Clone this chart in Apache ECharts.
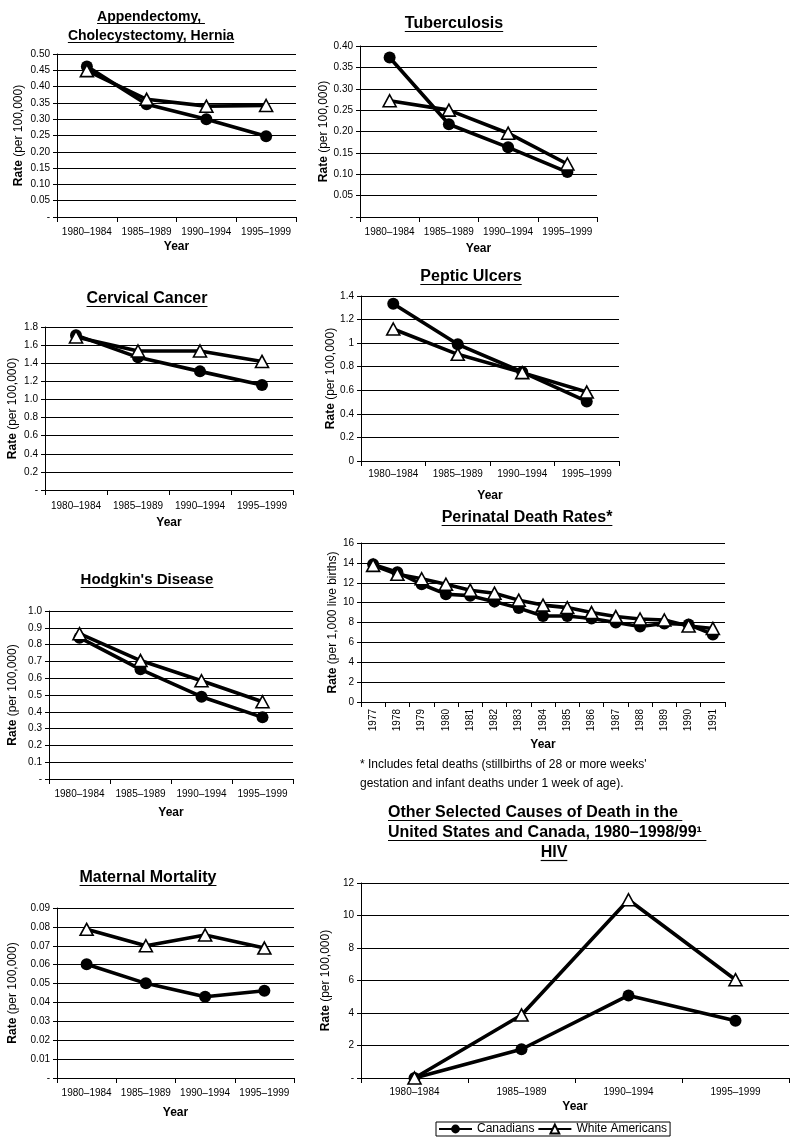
<!DOCTYPE html>
<html>
<head>
<meta charset="utf-8">
<script src="https://cdn.jsdelivr.net/npm/echarts@6/dist/echarts.min.js"></script>
<style>
html,body{margin:0;padding:0;background:#fff;}
#c{width:790px;height:1139px;}
</style>
</head>
<body>
<div id="c"></div>
<script>
// ---------- DATA ----------
const periods = ['1980–1984', '1985–1989', '1990–1994', '1995–1999'];
const years = ['1977','1978','1979','1980','1981','1982','1983','1984','1985','1986','1987','1988','1989','1990','1991'];
const seriesNames = ['Canadians', 'White Americans'];

const appCan = [0.462, 0.346, 0.300, 0.248];
const appWA  = [0.449, 0.361, 0.340, 0.342];
const appTicks = ['-', '0.05', '0.10', '0.15', '0.20', '0.25', '0.30', '0.35', '0.40', '0.45', '0.50'];

const tbCan = [0.373, 0.217, 0.163, 0.105];
const tbWA  = [0.272, 0.250, 0.196, 0.124];
const tbTicks = ['-', '0.05', '0.10', '0.15', '0.20', '0.25', '0.30', '0.35', '0.40'];

const cervCan = [1.71, 1.465, 1.31, 1.16];
const cervWA  = [1.69, 1.535, 1.535, 1.42];
const cervTicks = ['-', '0.2', '0.4', '0.6', '0.8', '1.0', '1.2', '1.4', '1.6', '1.8'];

const pepCan = [1.335, 0.99, 0.755, 0.505];
const pepWA  = [1.12, 0.905, 0.75, 0.585];
const pepTicks = ['0', '0.2', '0.4', '0.6', '0.8', '1', '1.2', '1.4'];

const hodCan = [0.841, 0.653, 0.49, 0.367];
const hodWA  = [0.865, 0.705, 0.585, 0.46];
const hodTicks = ['-', '0.1', '0.2', '0.3', '0.4', '0.5', '0.6', '0.7', '0.8', '0.9', '1.0'];

const periCan = [13.85, 13.05, 11.85, 10.85, 10.7, 10.1, 9.45, 8.65, 8.65, 8.4, 8.0, 7.6, 7.9, 7.8, 6.8];
const periWA  = [13.75, 12.85, 12.4, 11.85, 11.25, 10.95, 10.25, 9.75, 9.5, 9.0, 8.6, 8.35, 8.25, 7.65, 7.4];
const periTicks = ['0', '2', '4', '6', '8', '10', '12', '14', '16'];

const matCan = [0.0602, 0.0501, 0.043, 0.0462];
const matWA  = [0.0787, 0.0700, 0.0757, 0.0688];
const matTicks = ['-', '0.01', '0.02', '0.03', '0.04', '0.05', '0.06', '0.07', '0.08', '0.09'];

const hivCan = [0, 1.77, 5.08, 3.53];
const hivWA  = [0, 3.88, 10.97, 6.05];
const hivTicks = ['-', '2', '4', '6', '8', '10', '12'];

// ---------- LAYOUT ----------
const FONT = '"Liberation Sans", Arial, Helvetica, sans-serif';
const panels = [
  {grid:{left:57, top:54, width:239, height:163}, cats:periods, can:appCan, wa:appWA, max:0.5, interval:0.05, ticks:appTicks, yname:'(per 100,000)', yGap:32, xMargin:10, xGap:24},
  {grid:{left:360, top:46, width:237, height:171}, cats:periods, can:tbCan, wa:tbWA, max:0.4, interval:0.05, ticks:tbTicks, yname:'(per 100,000)', yGap:27, xMargin:10, xGap:26},
  {grid:{left:45, top:327, width:248, height:163}, cats:periods, can:cervCan, wa:cervWA, max:1.8, interval:0.2, ticks:cervTicks, yname:'(per 100,000)', yGap:26, xMargin:11, xGap:27},
  {grid:{left:361, top:296, width:258, height:165}, cats:periods, can:pepCan, wa:pepWA, max:1.4, interval:0.2, ticks:pepTicks, yname:'(per 100,000)', yGap:24, xMargin:8, xGap:29},
  {grid:{left:49, top:611, width:244, height:168}, cats:periods, can:hodCan, wa:hodWA, max:1.0, interval:0.1, ticks:hodTicks, yname:'(per 100,000)', yGap:30, xMargin:10, xGap:28},
  {grid:{left:361, top:543, width:364, height:159}, cats:years, can:periCan, wa:periWA, max:16, interval:2, ticks:periTicks, yname:'(per 1,000 live births)', yGap:18, xMargin:7, xGap:37, rotate:90},
  {grid:{left:57, top:908, width:237, height:170}, cats:periods, can:matCan, wa:matWA, max:0.09, interval:0.01, ticks:matTicks, yname:'(per 100,000)', yGap:38, xMargin:10, xGap:29},
  {grid:{left:361, top:883, width:428, height:195}, cats:periods, can:hivCan, wa:hivWA, max:12, interval:2, ticks:hivTicks, yname:'(per 100,000)', yGap:26, xMargin:9, xGap:23}
];

const titles = [
  {text:'Appendectomy, ', x:151, y:17, size:14, align:'center'},
  {text:'Cholecystectomy, Hernia', x:151, y:36, size:14, align:'center'},
  {text:'Tuberculosis', x:454, y:24, size:16, align:'center'},
  {text:'Cervical Cancer', x:147, y:299, size:16, align:'center'},
  {text:'Peptic Ulcers', x:471, y:277, size:16, align:'center'},
  {text:"Hodgkin's Disease", x:147, y:580, size:15, align:'center'},
  {text:'Perinatal Death Rates*', x:527, y:518, size:16, align:'center'},
  {text:'Maternal Mortality', x:148, y:878, size:16, align:'center'},
  {text:'Other Selected Causes of Death in the ', x:388, y:813, size:16, align:'left'},
  {text:'United States and Canada, 1980–1998/99¹ ', x:388, y:833, size:16, align:'left'},
  {text:'HIV', x:554, y:853, size:16, align:'center'}
];

const footnote = ["* Includes fetal deaths (stillbirths of 28 or more weeks'", "gestation and infant deaths under 1 week of age)."];

// ---------- BUILD ----------
const mctx = document.createElement('canvas').getContext('2d');
function textWidth(t, font){ mctx.font = font; return mctx.measureText(t).width; }

const grid = [], xAxis = [], yAxis = [], series = [], graphic = [];
panels.forEach((p, i) => {
  grid.push(Object.assign({containLabel:false}, p.grid));
  xAxis.push({
    type:'category', gridIndex:i, data:p.cats, boundaryGap:true,
    name:'Year', nameLocation:'middle', nameGap:p.xGap,
    nameTextStyle:{fontFamily:FONT, fontWeight:'bold', fontSize:12, color:'#000'},
    axisLine:{show:true, lineStyle:{color:'#000', width:1}},
    axisTick:{show:true, interval:0, alignWithLabel:false, length:5, lineStyle:{color:'#000', width:1}},
    axisLabel:{interval:0, fontFamily:FONT, fontSize:10, color:'#000', margin:p.xMargin, rotate:p.rotate || 0},
    splitLine:{show:false}
  });
  yAxis.push({
    type:'value', gridIndex:i, min:0, max:p.max, interval:p.interval,
    name:'{b|Rate} {n|' + p.yname + '}', nameLocation:'middle', nameGap:p.yGap, nameRotate:90,
    nameTextStyle:{fontFamily:FONT, fontSize:12, color:'#000',
      rich:{b:{fontFamily:FONT, fontWeight:'bold', fontSize:12, color:'#000'}, n:{fontFamily:FONT, fontSize:12, color:'#000'}}},
    axisLine:{show:true, lineStyle:{color:'#000', width:1}},
    axisTick:{show:true, length:4, lineStyle:{color:'#000', width:1}},
    axisLabel:{fontFamily:FONT, fontSize:10, color:'#000', margin:7,
      formatter:(v) => { const k = Math.round(v / p.interval); return p.ticks[k] !== undefined ? p.ticks[k] : ''; }},
    splitLine:{show:true, lineStyle:{color:'#000', width:1}}
  });
  series.push({
    name:seriesNames[0], type:'line', xAxisIndex:i, yAxisIndex:i, data:p.can,
    symbol:'circle', symbolSize:12, showAllSymbol:true,
    lineStyle:{color:'#000', width:3.6}, itemStyle:{color:'#000', borderColor:'#000', borderWidth:0},
    emphasis:{disabled:true}, animation:false, z:2
  });
  series.push({
    name:seriesNames[1], type:'line', xAxisIndex:i, yAxisIndex:i, data:p.wa,
    symbol:'triangle', symbolSize:[13, 12], showAllSymbol:true,
    lineStyle:{color:'#000', width:3.6}, itemStyle:{color:'#fff', borderColor:'#000', borderWidth:1.6},
    emphasis:{disabled:true}, animation:false, z:3
  });
});

titles.forEach(t => {
  const font = 'bold ' + t.size + 'px ' + FONT;
  const w = textWidth(t.text, font);
  const x0 = t.align === 'center' ? t.x - w / 2 : t.x;
  graphic.push({type:'text', x:t.x, y:t.y, z:10,
    style:{text:t.text, font:font, fill:'#000', textAlign:t.align, textVerticalAlign:'middle'}});
  const uy = Math.round(t.y + t.size * 0.35 + 1.5) + 0.5;
  graphic.push({type:'line', z:10, shape:{x1:x0, y1:uy, x2:x0 + w, y2:uy}, style:{stroke:'#000', lineWidth:1.2}});
});
footnote.forEach((line, k) => {
  graphic.push({type:'text', x:360, y:765 + k * 19, z:10,
    style:{text:line, font:'12px ' + FONT, fill:'#000', textAlign:'left', textVerticalAlign:'middle'}});
});

const chart = echarts.init(document.getElementById('c'), null, {renderer:'canvas', width:790, height:1139});
chart.setOption({
  animation:false,
  backgroundColor:'#fff',
  textStyle:{fontFamily:FONT},
  grid, xAxis, yAxis, series, graphic,
  legend:{
    data:seriesNames, left:436, top:1122, orient:'horizontal',
    borderColor:'#000', borderWidth:1, padding:[1, 3, 1, 2], itemGap:3,
    itemWidth:33, itemHeight:11, selectedMode:false,
    textStyle:{fontFamily:FONT, fontSize:12, color:'#000'}
  }
});
</script>
</body>
</html>
